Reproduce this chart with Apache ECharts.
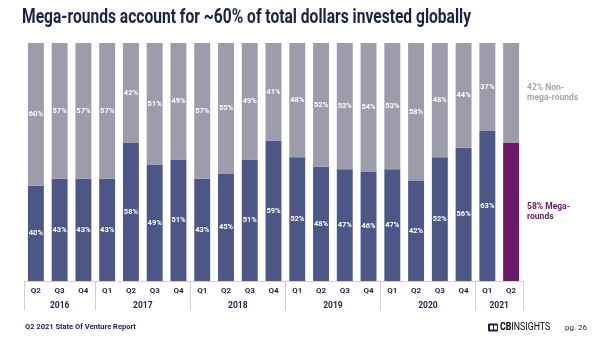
<!DOCTYPE html>
<html>
<head>
<meta charset="utf-8">
<script src="https://cdn.jsdelivr.net/npm/echarts@6/dist/echarts.min.js"></script>
<style>
html,body{margin:0;padding:0;background:#fff;}
#chart{width:600px;height:344px;}
</style>
</head>
<body>
<div id="chart"></div>
<script>
const quarters = ['Q2','Q3','Q4','Q1','Q2','Q3','Q4','Q1','Q2','Q3','Q4','Q1','Q2','Q3','Q4','Q1','Q2','Q3','Q4','Q1','Q2'];
const years = ['2016','2017','2018','2019','2020','2021'];
const quartersPerYear = [3,4,4,4,4,2];
const megaShare = [40,43,43,43,58,49,51,43,45,51,59,52,48,47,46,47,42,52,56,63,58];
const nonMegaShare = [60,57,57,57,42,51,49,57,55,49,41,48,52,53,54,53,58,48,44,37,42];
const titleText = 'Mega-rounds account for ~60% of total dollars invested globally';
const footerText = 'Q2 2021 State Of Venture Report';
const pageText = 'pg. 26';

const NAVY = '#1b2444';
const BLUE = '#4c5787';
const GRAY = '#9c9caa';
const PURPLE = '#6b1a68';
const LABELGRAY = '#a6a6b0';

const bounds = [0];
quartersPerYear.forEach(n => bounds.push(bounds[bounds.length - 1] + n));
const centres = years.map((y, i) => (bounds[i] + bounds[i + 1]) / 2);

const cats = [];
{
  let k = 0;
  years.forEach((y, i) => { for (let j = 0; j < quartersPerYear[i]; j++) { cats.push(quarters[k] + ' ' + y); k++; } });
}

function measure(text, font) {
  const c = document.createElement('canvas').getContext('2d');
  c.font = font;
  return c.measureText(text).width;
}
const titleScale = 449 / measure(titleText, 'bold 20px Roboto');

const last = megaShare.length - 1;
const megaData = megaShare.map((v, i) => i === last ? {
  value: v,
  itemStyle: { color: PURPLE },
  label: { position: 'right', distance: 8, color: PURPLE, fontSize: 8.5, lineHeight: 10, align: 'left',
    formatter: p => p.value + '% Mega-\nrounds' }
} : v);
const nonMegaData = nonMegaShare.map((v, i) => i === last ? {
  value: v,
  label: { position: 'right', distance: 8, color: LABELGRAY, fontSize: 8.5, lineHeight: 10, align: 'left',
    formatter: p => p.value + '% Non-\nmega-rounds' }
} : v);

const chart = echarts.init(document.getElementById('chart'), null, { renderer: 'canvas' });
chart.setOption({
  backgroundColor: '#fff',
  animation: false,
  grid: { left: 24, right: 77, top: 43, bottom: 63, containLabel: false },
  xAxis: [{
    type: 'category',
    data: cats,
    axisLine: { show: true, lineStyle: { color: '#cfcfd4', width: 1 } },
    axisTick: { show: false },
    axisLabel: { interval: 0, margin: 6, color: NAVY, fontFamily: 'Roboto', fontWeight: 'bold', fontSize: 8,
      formatter: v => v.split(' ')[0] }
  }, {
    type: 'value',
    position: 'bottom',
    min: 0,
    max: cats.length,
    axisLine: { show: false },
    splitLine: { show: false },
    axisTick: { show: true, customValues: bounds, length: 29, inside: false, lineStyle: { color: '#cfcfd4', width: 1 } },
    axisLabel: { show: true, customValues: centres, margin: 20, color: NAVY, fontFamily: 'Roboto', fontWeight: 'bold', fontSize: 8.5,
      formatter: v => { const i = centres.indexOf(v); return i >= 0 ? years[i] : ''; } }
  }],
  yAxis: { type: 'value', min: 0, max: 100, show: false },
  series: [{
    name: 'Mega-rounds',
    type: 'bar',
    stack: 'total',
    xAxisIndex: 0,
    barCategoryGap: '33%',
    data: megaData,
    itemStyle: { color: BLUE },
    label: { show: true, position: 'inside', color: '#fff', fontFamily: 'Roboto', fontWeight: 'bold', fontSize: 7.5,
      formatter: p => p.value + '%' }
  }, {
    name: 'Non-mega-rounds',
    type: 'bar',
    stack: 'total',
    xAxisIndex: 0,
    barCategoryGap: '33%',
    data: nonMegaData,
    itemStyle: { color: GRAY },
    label: { show: true, position: 'inside', color: '#fff', fontFamily: 'Roboto', fontWeight: 'bold', fontSize: 7.5,
      formatter: p => p.value + '%' }
  }],
  graphic: [{
    type: 'text',
    left: 22, top: 8,
    scaleX: titleScale,
    style: { text: titleText, fill: NAVY, font: 'bold 20px Roboto' }
  }, {
    type: 'text',
    left: 25, top: 323,
    style: { text: footerText, fill: NAVY, font: 'bold 7.5px Roboto' }
  }, {
    type: 'group',
    left: 488, top: 322,
    children: [
      { type: 'rect', shape: { x: 0, y: 1.5, width: 10, height: 8, r: 1 }, style: { fill: NAVY } },
      { type: 'rect', shape: { x: 2, y: 3.5, width: 3, height: 4 }, style: { fill: '#fff' } },
      { type: 'rect', shape: { x: 6, y: 3.5, width: 3, height: 4 }, style: { fill: '#fff' } },
      { type: 'text', x: 12, y: 0, scaleX: 0.8, style: { text: '{b|CB}{l|INSIGHTS}', rich: {
        b: { fontFamily: 'Roboto', fontWeight: 'bold', fontSize: 11, color: NAVY },
        l: { fontFamily: 'Roboto', fontWeight: 'normal', fontSize: 11, color: NAVY }
      } } }
    ]
  }, {
    type: 'text',
    left: 565, top: 324,
    style: { text: pageText, fill: NAVY, font: '8px Roboto' }
  }]
});
</script>
</body>
</html>
